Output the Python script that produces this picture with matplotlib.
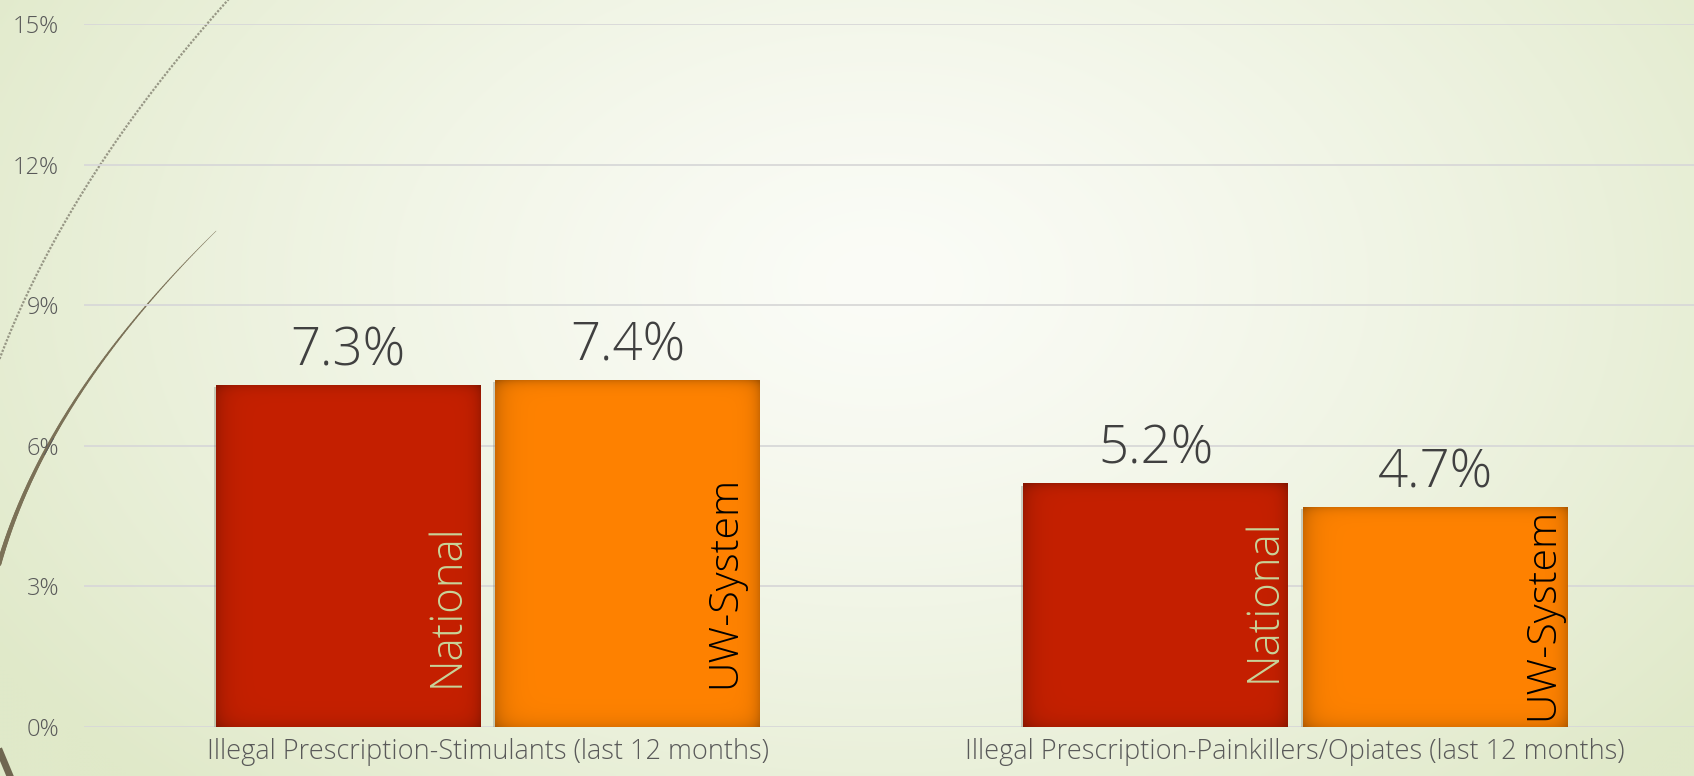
import numpy as np
import matplotlib
matplotlib.use("Agg")
import matplotlib.pyplot as plt
import matplotlib.patheffects as pe

# ---- data ----
categories = ["Illegal Prescription-Stimulants (last 12 months)",
              "Illegal Prescription-Painkillers/Opiates (last 12 months)"]
series_names = ["National", "UW-System"]
national = [7.3, 5.2]
uw_system = [7.4, 4.7]
y_ticks = [0, 3, 6, 9, 12, 15]

# ---- style ----
W_PX, H_PX, DPI = 1694, 776, 100
plt.rcParams["font.family"] = ["Open Sans", "DejaVu Sans"]
plt.rcParams["font.weight"] = "light"
series_colors = ["#c52000", "#ff8200"]
name_colors = ["#c8d49a", "#000000"]
name_sizes = [31.5, 29.5]
value_color = "#404040"
axis_text_color = "#595959"

fig = plt.figure(figsize=(W_PX / DPI, H_PX / DPI), dpi=DPI)

# ---- background: soft radial gradient with theme swirls ----
bg = fig.add_axes([0, 0, 1, 1], zorder=-10)
bg.set_xlim(0, W_PX)
bg.set_ylim(H_PX, 0)
bg.axis("off")
yy, xx = np.mgrid[0:H_PX:4, 0:W_PX:4]
d = np.sqrt(((xx - 880) / 1050.0) ** 2 + ((yy - 280) / 700.0) ** 2)
t = np.clip(d, 0, 1) ** 1.3
c_in = np.array([251, 252, 247]) / 255.0
c_out = np.array([224, 233, 201]) / 255.0
img = c_in[None, None, :] * (1 - t[..., None]) + c_out[None, None, :] * t[..., None]
bg.imshow(img, extent=(0, W_PX, H_PX, 0), aspect="auto", interpolation="bilinear")

# dotted arc
ys = np.array([0, 24, 164, 297, 356])
xs = np.array([228, 207, 100, 27, 0])
cf = np.polyfit(ys, xs, 2)
yv = np.linspace(-5, 380, 300)
bg.plot(np.polyval(cf, yv), yv, color="#8e8d7c", lw=1.6, ls=(0, (1.0, 0.7)), alpha=0.9)

# solid tapered arc
ys = np.array([231, 305, 445, 559])
xs = np.array([217, 145, 50, 0])
cf = np.polyfit(ys, xs, 2)
yv = np.linspace(231, 600, 200)
xv = np.polyval(cf, yv)
widths = np.linspace(0.3, 3.6, len(yv) - 1)
for i in range(len(yv) - 1):
    bg.plot(xv[i:i + 2], yv[i:i + 2], color="#7b7157", lw=widths[i],
            solid_capstyle="round")
bg.plot([0, 10], [752, 776], color="#6f6650", lw=5)

# ---- chart ----
ax_left, ax_w = 84, 1615
ax_bottom, ax_h = 49, 703
ax = fig.add_axes([ax_left / W_PX, ax_bottom / H_PX, ax_w / W_PX, ax_h / H_PX])
ax.patch.set_alpha(0)
ax.set_xlim(-0.5, len(categories) - 0.5)
ax.set_ylim(0, 15)
for s in ax.spines.values():
    s.set_visible(False)
ax.set_yticks(y_ticks)
ax.set_yticklabels([f"{v}%" for v in y_ticks])
ax.tick_params(axis="y", length=0, pad=18, labelsize=17, labelcolor=axis_text_color)
ax.tick_params(axis="x", length=0, pad=8, labelsize=19.5, labelcolor=axis_text_color)
ax.set_xticks(range(len(categories)))
ax.set_xticklabels(categories)
ax.grid(axis="y", color="#d8d8d8", lw=1.3)
ax.set_axisbelow(True)

x = np.arange(len(categories))
bar_w = 0.328
off = 0.173

bars = []
for k, (vals, col) in enumerate(zip([national, uw_system], series_colors)):
    pos = x - off if k == 0 else x + off
    bc = ax.bar(pos, vals, width=bar_w, color=col, zorder=3,
                path_effects=[pe.SimplePatchShadow(offset=(-1.2, -1.6),
                                                   shadow_rgbFace="#808070",
                                                   alpha=0.35),
                              pe.Normal()])
    bars.append(bc)

# bevel shading over each bar
def bevel(patch, base):
    x0, y0 = patch.get_x(), patch.get_y()
    w, h = patch.get_width(), patch.get_height()
    p0 = ax.transData.transform((x0, y0))
    p1 = ax.transData.transform((x0 + w, y0 + h))
    wp, hp = int(round(p1[0] - p0[0])), int(round(p1[1] - p0[1]))
    jj, ii = np.meshgrid(np.arange(wp) + 0.5, np.arange(hp) + 0.5)
    dl, dr = jj, wp - jj
    dt, db = ii, hp - ii
    dark = (0.20 * np.exp(-dl / 10.0) + 0.20 * np.exp(-dr / 7.0)
            + 0.13 * np.exp(-dt / 8.0) + 0.20 * np.exp(-db / 5.0))
    dark = np.clip(dark, 0, 0.32)
    rgb = np.array(matplotlib.colors.to_rgb(base))
    arr = rgb[None, None, :] * (1 - dark[..., None])
    im = ax.imshow(arr, extent=(x0, x0 + w, y0 + h, y0), aspect="auto",
                   interpolation="bilinear", zorder=3.5)
    im.set_clip_path(patch)

for bc, col in zip(bars, series_colors):
    for p in bc:
        bevel(p, col)
ax.set_xlim(-0.5, len(categories) - 0.5)
ax.set_ylim(0, 15)

# value labels
for bc, vals in zip(bars, [national, uw_system]):
    for p, v in zip(bc, vals):
        ax.annotate(f"{v}%", (p.get_x() + p.get_width() / 2, v),
                    xytext=(0, 14), textcoords="offset points",
                    ha="center", va="baseline", fontsize=38,
                    color=value_color, zorder=5)

# series names inside bars (right gap px, bottom gap px), per series then category
name_offsets = [[(11, 40), (1, 45)], [(15, 39), (4, 7)]]
for k, (bc, name) in enumerate(zip(bars, series_names)):
    for j, p in enumerate(bc):
        g, b = name_offsets[k][j]
        ax.annotate(name, (p.get_x() + p.get_width(), 0),
                    xytext=(-g * 0.72, b * 0.72), textcoords="offset points",
                    rotation=90, ha="right", va="bottom", fontsize=name_sizes[k],
                    color=name_colors[k], zorder=5)

fig.savefig("out.png", dpi=DPI)
